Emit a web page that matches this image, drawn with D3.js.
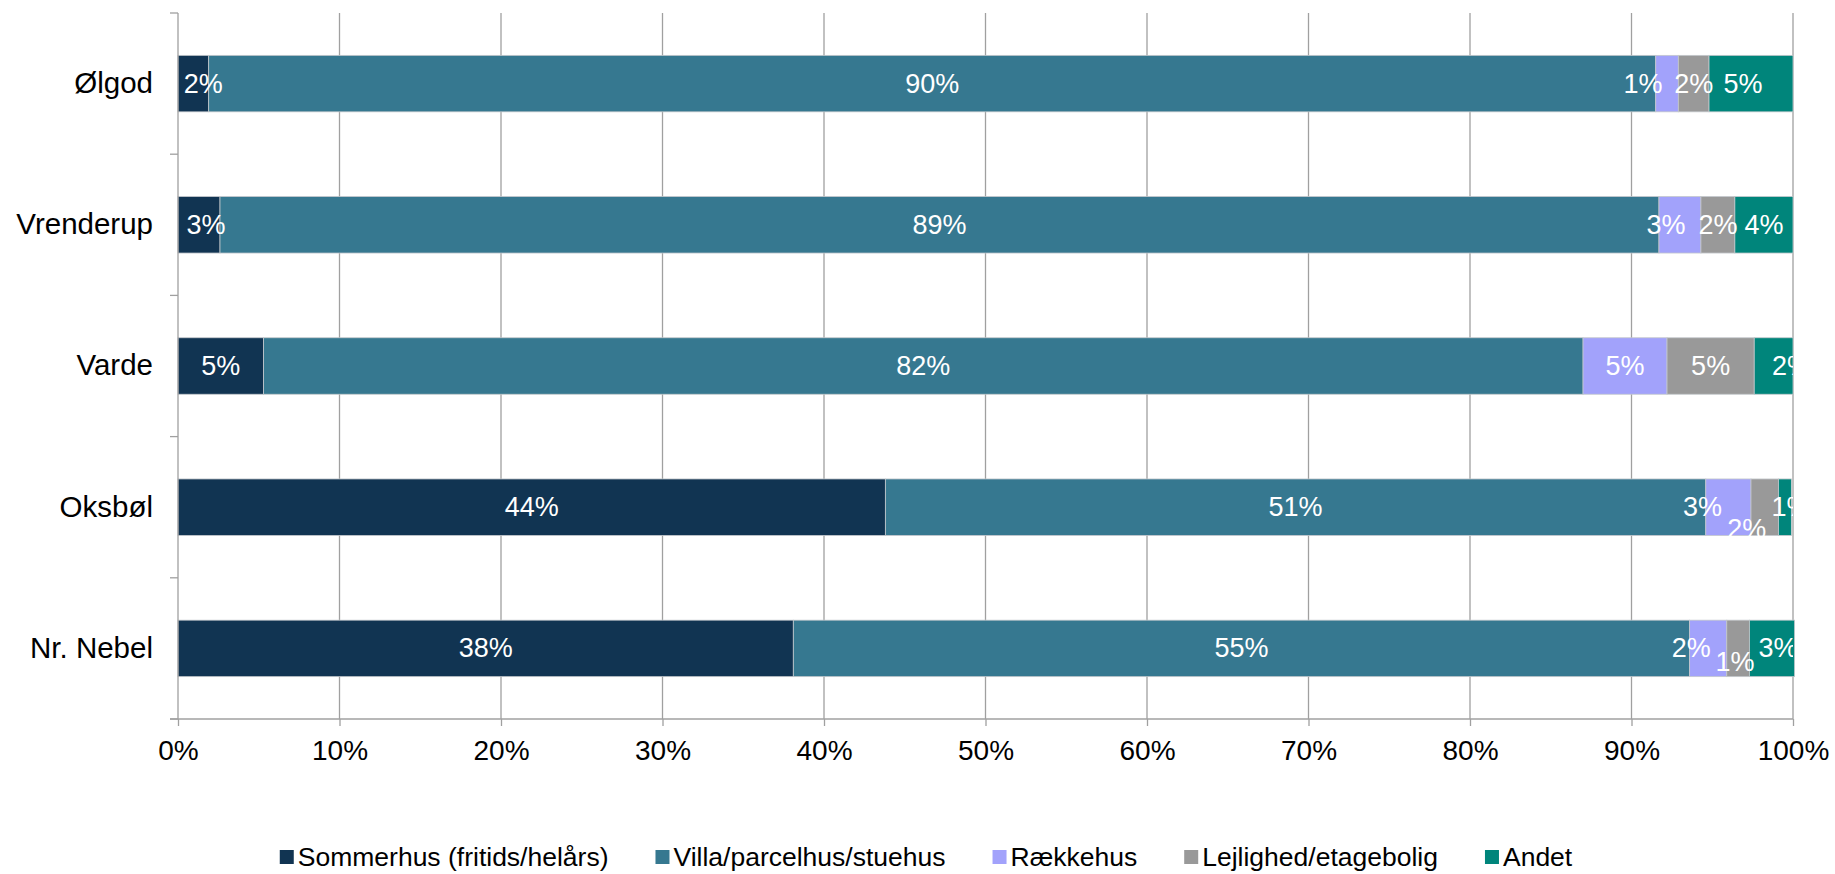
<!DOCTYPE html>
<html>
<head>
<meta charset="utf-8">
<script src="https://cdn.jsdelivr.net/npm/d3@7"></script>
<style>
  body { margin: 0; background: #fff; }
  svg text { font-family: "Liberation Sans", Arial, sans-serif; }
</style>
</head>
<body>
<div class="canvas"></div>
<script>
// data (share of each housing type, in %)
const categories = ['Ølgod', 'Vrenderup', 'Varde', 'Oksbøl', 'Nr. Nebel'];
const seriesNames = ['Sommerhus (fritids/helårs)', 'Villa/parcelhus/stuehus', 'Rækkehus', 'Lejlighed/etagebolig', 'Andet'];
const sommerhus = [1.9, 2.6, 5.3, 43.8, 38.1];
const villa     = [89.6, 89.1, 81.7, 50.8, 55.5];
const raekkehus = [1.4, 2.6, 5.2, 2.8, 2.3];
const lejlighed = [1.9, 2.1, 5.4, 1.7, 1.4];
const andet     = [5.2, 3.6, 2.4, 0.8, 2.8];
const xTicks = [0, 10, 20, 30, 40, 50, 60, 70, 80, 90, 100];

const colors = ['#113452', '#367890', '#a2a2fb', '#999999', '#00857b'];

// label nudges (Excel moves small labels around) [category, series, dx, dy]
const nudges = [
    [0, 0, 10, 0], [0, 2, -24, 0], [0, 4, -8, 0],
    [1, 0, 7, 0], [1, 2, -14, 0],
    [2, 4, 18, 0],
    [3, 2, -26, 0], [3, 3, -18, 22], [3, 4, 6, 0],
    [4, 2, -17, 0], [4, 3, -3, 14], [4, 4, 6, 0]
];

const width = 1835, height = 874;
const margins = {'top': 13, 'left': 178, 'right': 42, 'bottom': 155};
const graphWidth = width - margins.left - margins.right;
const graphHeight = height - margins.top - margins.bottom;

const svg = d3.select('.canvas')
    .append('svg')
    .attr('width', width)
    .attr('height', height);

const graph = svg.append('g')
    .attr('transform', 'translate(' + margins.left + ',' + margins.top + ')');

const x = d3.scaleLinear()
    .domain([0, 100])
    .range([0, graphWidth]);

const y = d3.scaleBand()
    .domain(categories)
    .range([0, graphHeight])
    .paddingInner(0.6)
    .paddingOuter(0.3);

// vertical gridlines
graph.append('g')
    .selectAll('line')
    .data(xTicks.slice(1))
    .enter().append('line')
    .attr('x1', d => x(d)).attr('x2', d => x(d))
    .attr('y1', 0).attr('y2', graphHeight)
    .attr('stroke', '#a0a0a0')
    .attr('stroke-width', 1.3);

// stack the series
const table = categories.map((c, i) => ({
    name: c,
    s0: sommerhus[i], s1: villa[i], s2: raekkehus[i], s3: lejlighed[i], s4: andet[i]
}));
const keys = ['s0', 's1', 's2', 's3', 's4'];
const stacked = d3.stack().keys(keys)(table);

const layers = graph.selectAll('g.layer')
    .data(stacked)
    .enter().append('g')
    .attr('class', 'layer')
    .attr('fill', (d, i) => colors[i]);

layers.selectAll('rect')
    .data(d => d)
    .enter().append('rect')
    .attr('x', d => x(d[0]))
    .attr('width', d => x(d[1]) - x(d[0]))
    .attr('y', d => y(d.data.name))
    .attr('height', y.bandwidth())
    .attr('stroke', '#c4c8cc')
    .attr('stroke-width', 0.8);

// axes
const xAxis = d3.axisBottom(x)
    .tickValues(xTicks)
    .tickFormat(d => d + '%')
    .tickSize(7)
    .tickPadding(14);

const xAxisGroup = graph.append('g')
    .attr('transform', 'translate(0,' + graphHeight + ')')
    .call(xAxis);
xAxisGroup.select('.domain').remove();
xAxisGroup.append('line')
    .attr('x1', -8).attr('x2', graphWidth)
    .attr('stroke', '#a0a0a0').attr('stroke-width', 1.3);
xAxisGroup.selectAll('.tick line').attr('stroke', '#a0a0a0').attr('stroke-width', 1.3);
xAxisGroup.selectAll('.tick text')
    .attr('font-size', 28).attr('fill', '#000')
    .style('font-family', '"Liberation Sans", Arial, sans-serif');

const yAxisGroup = graph.append('g')
    .call(d3.axisLeft(y).tickSize(0).tickPadding(25));
yAxisGroup.select('.domain').remove();
yAxisGroup.selectAll('.tick text')
    .attr('font-size', 29.5).attr('fill', '#000')
    .style('font-family', '"Liberation Sans", Arial, sans-serif');
yAxisGroup.append('line')
    .attr('y1', 0).attr('y2', graphHeight)
    .attr('stroke', '#a0a0a0').attr('stroke-width', 1.3);
// category tick marks sit on the band boundaries
yAxisGroup.selectAll('line.bound')
    .data(d3.range(categories.length + 1))
    .enter().append('line')
    .attr('class', 'bound')
    .attr('x1', -8).attr('x2', 0)
    .attr('y1', i => i * y.step()).attr('y2', i => i * y.step())
    .attr('stroke', '#a0a0a0').attr('stroke-width', 1.3);

// data labels, clipped to the plot area
svg.append('defs').append('clipPath')
    .attr('id', 'plotclip')
    .append('rect')
    .attr('x', 0).attr('y', -10)
    .attr('width', graphWidth).attr('height', graphHeight + 20);

const labelGroup = graph.append('g').attr('clip-path', 'url(#plotclip)');
stacked.forEach((layer, si) => {
    layer.forEach((d, ci) => {
        const n = nudges.find(k => k[0] === ci && k[1] === si);
        const dx = n ? n[2] : 0, dy = n ? n[3] : 0;
        labelGroup.append('text')
            .attr('x', (x(d[0]) + x(d[1])) / 2 + dx)
            .attr('y', y(d.data.name) + y.bandwidth() / 2 + dy)
            .attr('text-anchor', 'middle')
            .attr('dominant-baseline', 'central')
            .attr('font-size', 27)
            .attr('fill', '#fff')
            .text(Math.round(d[1] - d[0]) + '%');
    });
});

// legend
const legend = svg.append('g');
let lx = 0;
seriesNames.forEach((name, i) => {
    const item = legend.append('g').attr('transform', 'translate(' + lx + ',0)');
    item.append('rect')
        .attr('x', 0).attr('y', -7)
        .attr('width', 14).attr('height', 14)
        .attr('fill', colors[i]);
    const t = item.append('text')
        .attr('x', 18)
        .attr('dominant-baseline', 'central')
        .attr('font-size', 26.5)
        .attr('fill', '#000')
        .text(name);
    lx += 18 + t.node().getComputedTextLength() + 47;
});
lx -= 47;
legend.attr('transform', 'translate(' + (926 - lx / 2) + ',857)');
</script>
</body>
</html>
